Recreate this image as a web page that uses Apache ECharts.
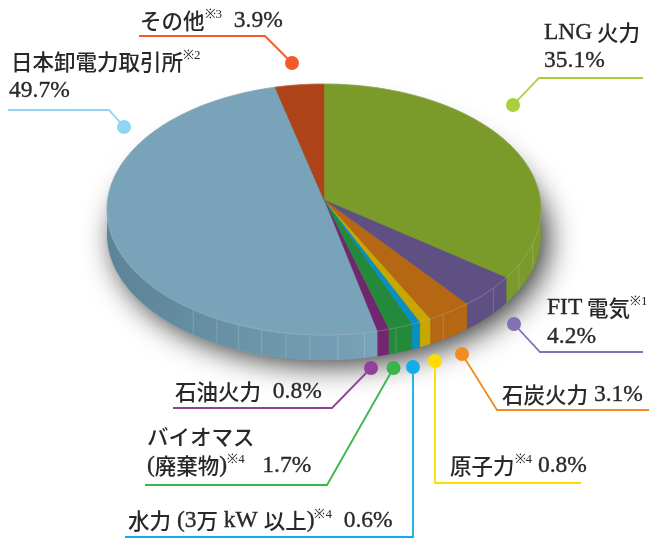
<!DOCTYPE html>
<html>
<head>
<meta charset="utf-8">
<style>
  html, body { margin: 0; padding: 0; background: #fff; }
  #chart { width: 661px; height: 538px; }
</style>
<script src="https://cdn.jsdelivr.net/npm/echarts@6/dist/echarts.min.js"></script>
</head>
<body>
<div id="chart"></div>
<script>
const categories = ['LNG 火力', 'FIT 電気', '石炭火力', '原子力', '水力', 'バイオマス', '石油火力', '日本卸電力取引所', 'その他']
const shares = [35.1, 4.2, 3.1, 0.8, 0.6, 1.7, 0.8, 49.7, 3.9]
const topColors = ['#7a9a2a', '#5f5084', '#b56713', '#c8a800', '#0a8fc0', '#24893a', '#732670', '#78a3b8', '#ae4319']
const sideDarkColors = ['#7a982a', '#5f5084', '#b56713', '#c8a800', '#0a8fc0', '#24893a', '#732670', '#5c8397', '#ae4319']

const SERIF = '"Liberation Serif", serif'
const CJK = '"Noto Sans CJK JP", sans-serif'
const INK = '#2b2728'

// perspective disc
const CX = 324
const APEX_Y = 200
const SCALE_X = 216.4
const SCALE_Y = 124.8
const TILT = 0.0757
const DEPTH = 25
// facet seams on the wall, in degrees clockwise from the top
const seamAngles = [110, 120, 132, 149, 162, 170, 176.6, 183.4, 189.4, 195.5, 201.5, 207.5, 214.5]

function project(deg, dy) {
  const t = deg * Math.PI / 180
  const s = -Math.cos(t)
  const w = 1 - TILT * s
  return [CX + SCALE_X * Math.sin(t) / w, APEX_Y + SCALE_Y * s / w + (dy || 0)]
}

function arcPoints(from, to, dy) {
  const n = Math.max(2, Math.ceil((to - from) / 1.5))
  const pts = []
  for (let i = 0; i <= n; i++) {
    pts.push(project(from + (to - from) * i / n, dy))
  }
  return pts
}

const total = shares.reduce((a, b) => a + b, 0)
function sliceRange(idx) {
  let sum = 0
  for (let i = 0; i < idx; i++) sum += shares[i]
  return [sum / total * 360, (sum + shares[idx]) / total * 360]
}

function renderShadow(params) {
  if (params.dataIndex !== 0) return null
  return {
    type: 'polygon',
    shape: { points: arcPoints(0, 360, DEPTH - 6) },
    style: {
      fill: '#777',
      shadowBlur: 30,
      shadowOffsetX: 7,
      shadowOffsetY: 11,
      shadowColor: 'rgba(0,0,0,0.8)'
    }
  }
}

function renderSide(params) {
  const idx = params.dataIndex
  const range = sliceRange(idx)
  const upper = arcPoints(range[0], range[1], 0)
  const lower = arcPoints(range[0], range[1], DEPTH).reverse()
  const children = [{
    type: 'polygon',
    shape: { points: upper.concat(lower) },
    style: {
      fill: new echarts.graphic.LinearGradient(0, 0, 1, 0, [
        { offset: 0, color: sideDarkColors[idx] },
        { offset: 1, color: topColors[idx] }
      ]),
      stroke: topColors[idx],
      lineWidth: 0.4
    }
  }]
  seamAngles.forEach(function (deg) {
    if (deg > range[0] && deg <= range[1]) {
      children.push({
        type: 'line',
        shape: {
          x1: project(deg, 0)[0], y1: project(deg, 0)[1],
          x2: project(deg, DEPTH)[0], y2: project(deg, DEPTH)[1]
        },
        style: { stroke: 'rgba(255,255,255,0.22)', lineWidth: 0.8 }
      })
    }
  })
  return { type: 'group', children: children }
}

function renderTop(params, api) {
  const idx = params.dataIndex
  const range = sliceRange(idx)
  const arc = arcPoints(range[0], range[1], 0)
  return {
    type: 'group',
    children: [
      {
        type: 'polygon',
        shape: { points: [[CX, APEX_Y]].concat(arc) },
        style: { fill: api.visual('color'), stroke: api.visual('color'), lineWidth: 0.4 }
      },
      {
        type: 'polyline',
        shape: { points: arc },
        style: { fill: null, stroke: 'rgba(205,205,205,0.4)', lineWidth: 0.7 }
      }
    ]
  }
}

function pieData() {
  return shares.map(function (v, i) {
    return { name: categories[i], value: v, itemStyle: { color: topColors[i] } }
  })
}

function label(x, y, rich) {
  return {
    type: 'text',
    z: 10,
    style: {
      x: x,
      y: y,
      text: rich,
      fill: INK,
      font: '21.5px ' + CJK,
      verticalAlign: 'middle',
      rich: {
        t: { font: '500 21.5px ' + CJK, fill: INK },
        n: { font: '23.5px ' + SERIF, fill: INK, stroke: INK, lineWidth: 0.35 },
        s: { font: '13px ' + SERIF, fill: INK, verticalAlign: 'top', lineHeight: 26 }
      }
    }
  }
}

function callout(points, color) {
  const dot = points[0]
  return [
    {
      type: 'polyline',
      z: 5,
      shape: { points: points },
      style: { fill: null, stroke: color, lineWidth: 1.8 }
    },
    {
      type: 'circle',
      z: 6,
      shape: { cx: dot[0], cy: dot[1], r: 7 },
      style: { fill: color }
    }
  ]
}

const chart = echarts.init(document.getElementById('chart'), null, { renderer: 'canvas' })
chart.setOption({
  animation: false,
  backgroundColor: '#fff',
  series: [
    { type: 'custom', coordinateSystem: 'none', silent: true, z: 1, data: pieData(), renderItem: renderShadow },
    { type: 'custom', coordinateSystem: 'none', silent: true, z: 2, data: pieData(), renderItem: renderSide },
    { type: 'custom', coordinateSystem: 'none', silent: true, z: 3, data: pieData(), renderItem: renderTop }
  ],
  graphic: [
    ...callout([[292, 63], [265, 36], [139, 36]], '#f15a2b'),
    ...callout([[124, 127], [109, 110], [8, 110]], '#8fd6f5'),
    ...callout([[513, 105], [539, 78], [643, 78]], '#a9d03a'),
    ...callout([[514, 324], [540, 352], [643, 352]], '#8470b3'),
    ...callout([[462, 354], [497, 410], [649, 410]], '#f28c22'),
    ...callout([[435, 361], [435, 483], [581, 483]], '#ffdb00'),
    ...callout([[413, 367], [413, 537], [125, 537]], '#12aee8'),
    ...callout([[393.5, 368], [327, 485], [145, 485]], '#39b54a'),
    ...callout([[371, 368], [332, 408], [173, 408]], '#93409b'),
    label(140, 21, '{t|その他}{s|※3}{n|  3.9%}'),
    label(11, 62, '{t|日本卸電力取引所}{s|※2}'),
    label(9, 91, '{n|49.7%}'),
    label(544, 33, '{n|LNG} {t|火力}'),
    label(544, 61, '{n|35.1%}'),
    label(547, 308, '{n|FIT} {t|電気}{s|※1}'),
    label(547, 337, '{n|4.2%}'),
    label(502, 395, '{t|石炭火力}{n| 3.1%}'),
    label(450, 466, '{t|原子力}{s|※4}{n| 0.8%}'),
    label(128, 521, '{t|水力}{n| (3}{t|万}{n| kW }{t|以上}{n|)}{s|※4}{n|  0.6%}'),
    label(147, 437, '{t|バイオマス}'),
    label(147, 466, '{n|(}{t|廃棄物}{n|)}{s|※4}{n|   1.7%}'),
    label(175, 392, '{t|石油火力}{n|  0.8%}')
  ]
})
</script>
</body>
</html>
